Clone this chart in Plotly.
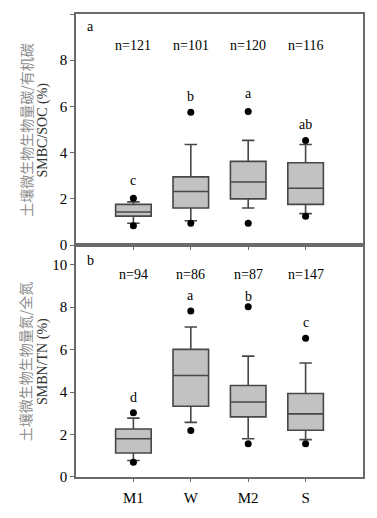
import plotly.graph_objects as go
from plotly.subplots import make_subplots

categories = ["M1", "W", "M2", "S"]

smbc_q1 = [1.25, 1.60, 2.00, 1.76]
smbc_median = [1.43, 2.32, 2.73, 2.46]
smbc_q3 = [1.76, 2.95, 3.62, 3.56]
smbc_low = [0.94, 1.05, 1.60, 1.36]
smbc_high = [1.87, 4.35, 4.53, 4.35]
smbc_p5 = [0.83, 0.94, 0.94, 1.25]
smbc_p95 = [2.03, 5.75, 5.78, 4.53]
smbc_n = [121, 101, 120, 116]
smbc_letters = ["c", "b", "a", "ab"]
smbc_letter_y = [2.8, 6.45, 6.57, 5.23]

smbn_q1 = [1.13, 3.33, 2.83, 2.20]
smbn_median = [1.80, 4.78, 3.53, 2.97]
smbn_q3 = [2.26, 6.01, 4.31, 3.93]
smbn_low = [0.78, 2.57, 1.80, 1.76]
smbn_high = [2.77, 7.06, 5.69, 5.37]
smbn_p5 = [0.70, 2.19, 1.56, 1.56]
smbn_p95 = [3.03, 7.81, 8.01, 6.53]
smbn_n = [94, 86, 87, 147]
smbn_letters = ["d", "a", "b", "c"]
smbn_letter_y = [3.76, 8.53, 8.50, 7.25]

pos = list(range(len(categories)))
SERIF = "Liberation Serif"
CJK = "Noto Sans CJK SC"
AX = "#6a6a6a"

fig = make_subplots(rows=2, cols=1, shared_xaxes=False, vertical_spacing=0)
fig.update_layout(
    width=361, height=502,
    margin=dict(l=68, r=5, t=4, b=23),
    paper_bgcolor="white", plot_bgcolor="white",
    showlegend=False,
    font=dict(family=SERIF, size=14, color="black"),
)
fig.layout.yaxis.domain = [0.501, 1.0]
fig.layout.yaxis2.domain = [0.0, 0.501]

panels = [
    (1, smbc_q1, smbc_median, smbc_q3, smbc_low, smbc_high, smbc_p5, smbc_p95,
     smbc_n, smbc_letters, smbc_letter_y, 8.65, 9.45, "a",
     "土壤微生物生物量碳/有机碳", "SMBC/SOC (%)", [0, 10]),
    (2, smbn_q1, smbn_median, smbn_q3, smbn_low, smbn_high, smbn_p5, smbn_p95,
     smbn_n, smbn_letters, smbn_letter_y, 9.54, 10.2, "b",
     "土壤微生物生物量氮/全氮", "SMBN/TN (%)", [0, 10.92]),
]

for (row, q1, med, q3, lo, hi, p5, p95, ns, letters, ly, ny, pl_y, pl,
     cn_title, en_title, yr) in panels:
    fig.add_trace(go.Box(
        x=pos, q1=q1, median=med, q3=q3, lowerfence=lo, upperfence=hi,
        width=0.62, whiskerwidth=0.35, boxpoints=False,
        fillcolor="#c2c2c2", line=dict(color="#474747", width=1.6),
        hoverinfo="skip",
    ), row=row, col=1)
    fig.add_trace(go.Scatter(
        x=pos + pos, y=p5 + p95, mode="markers",
        marker=dict(color="black", size=7), hoverinfo="skip",
    ), row=row, col=1)
    xref = "x" if row == 1 else "x2"
    yref = "y" if row == 1 else "y2"
    for i in pos:
        fig.add_annotation(x=i, y=ny, xref=xref, yref=yref, text=f"n={ns[i]}",
                           showarrow=False, font=dict(family=SERIF, size=14))
        fig.add_annotation(x=i, y=ly[i], xref=xref, yref=yref, text=letters[i],
                           showarrow=False, font=dict(family=SERIF, size=14))
    fig.add_annotation(x=-0.75, y=pl_y, xref=xref, yref=yref, text=pl,
                       showarrow=False, font=dict(family=SERIF, size=14))
    ymid = (yr[0] + yr[1]) / 2
    fig.add_annotation(x=-0.177, y=ymid, xref="paper", yref=yref, text=cn_title,
                       textangle=-90, showarrow=False, xanchor="center",
                       font=dict(family=CJK, size=14, color="#8c8c8c"))
    fig.add_annotation(x=-0.115, y=ymid, xref="paper", yref=yref, text=en_title,
                       textangle=-90, showarrow=False, xanchor="center",
                       font=dict(family=SERIF, size=14, color="#333333"))
    fig.update_yaxes(range=yr, tickvals=[0, 2, 4, 6, 8, 10],
                     showgrid=False, zeroline=False,
                     showline=True, linecolor=AX, linewidth=1.5, mirror=True,
                     ticks="outside", ticklen=4, tickcolor=AX, tickwidth=1,
                     tickfont=dict(family=SERIF, size=15, color="black"),
                     row=row, col=1)
    fig.update_xaxes(range=[-1, 4], tickvals=pos, ticktext=categories,
                     showgrid=False, zeroline=False,
                     showline=True, linecolor=AX, linewidth=1.5, mirror=True,
                     ticks="outside", ticklen=3, tickcolor=AX, tickwidth=1,
                     showticklabels=(row == 2), ticklabelstandoff=3,
                     tickfont=dict(family=SERIF, size=15, color="black"),
                     row=row, col=1)

fig.write_html("out.html")
